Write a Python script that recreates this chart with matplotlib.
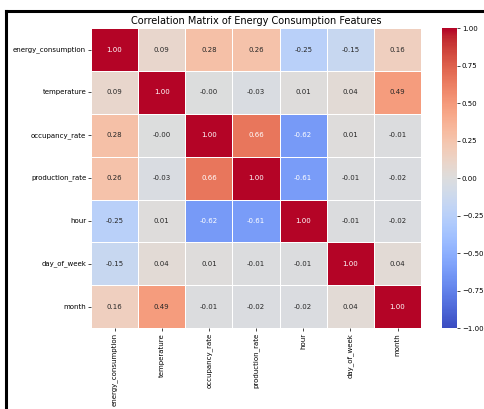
import numpy as np
import matplotlib
matplotlib.use("Agg")
import matplotlib.pyplot as plt
import seaborn as sns
from matplotlib.lines import Line2D

features = ["energy_consumption", "temperature", "occupancy_rate",
            "production_rate", "hour", "day_of_week", "month"]

energy_consumption = [1.00, 0.09, 0.28, 0.26, -0.25, -0.15, 0.16]
temperature = [0.09, 1.00, -0.001, -0.03, 0.01, 0.04, 0.49]
occupancy_rate = [0.28, -0.001, 1.00, 0.66, -0.62, 0.01, -0.01]
production_rate = [0.26, -0.03, 0.66, 1.00, -0.61, -0.01, -0.02]
hour = [-0.25, 0.01, -0.62, -0.61, 1.00, -0.01, -0.02]
day_of_week = [-0.15, 0.04, 0.01, -0.01, -0.01, 1.00, 0.04]
month = [0.16, 0.49, -0.01, -0.02, -0.02, 0.04, 1.00]

corr = np.array([energy_consumption, temperature, occupancy_rate,
                 production_rate, hour, day_of_week, month])

fig = plt.figure(figsize=(4.84, 4.09), dpi=100)
ax = fig.add_axes([0.188, 0.198, 0.682, 0.733])
cax = fig.add_axes([0.913, 0.198, 0.031, 0.733])

sns.heatmap(corr, ax=ax, cbar_ax=cax, cmap="coolwarm", vmin=-1, vmax=1,
            annot=True, fmt=".2f", annot_kws={"fontsize": 5},
            linewidths=0.4, linecolor="white",
            xticklabels=features, yticklabels=features)

ax.set_title("Correlation Matrix of Energy Consumption Features",
             fontsize=7, pad=3)
ax.tick_params(axis="both", labelsize=5, length=2, width=0.5, pad=1.5)
plt.setp(ax.get_xticklabels(), rotation=90)
plt.setp(ax.get_yticklabels(), rotation=0)

cax.tick_params(labelsize=5, length=2, width=0.5, pad=1.5)
cax.set_yticks([-1, -0.75, -0.5, -0.25, 0, 0.25, 0.5, 0.75, 1])
cax.set_yticklabels([f"{v:.2f}".replace("-", "\u2212")
                     for v in [-1, -0.75, -0.5, -0.25, 0, 0.25, 0.5, 0.75, 1]])

# screenshot frame
fig.add_artist(Line2D([0.0124, 1.0], [0.974, 0.974], color="black",
                      linewidth=2.2, transform=fig.transFigure))
fig.add_artist(Line2D([0.0124, 0.0124], [0.0, 0.974], color="black",
                      linewidth=2.2, transform=fig.transFigure))

fig.savefig("out.png", dpi=100)
